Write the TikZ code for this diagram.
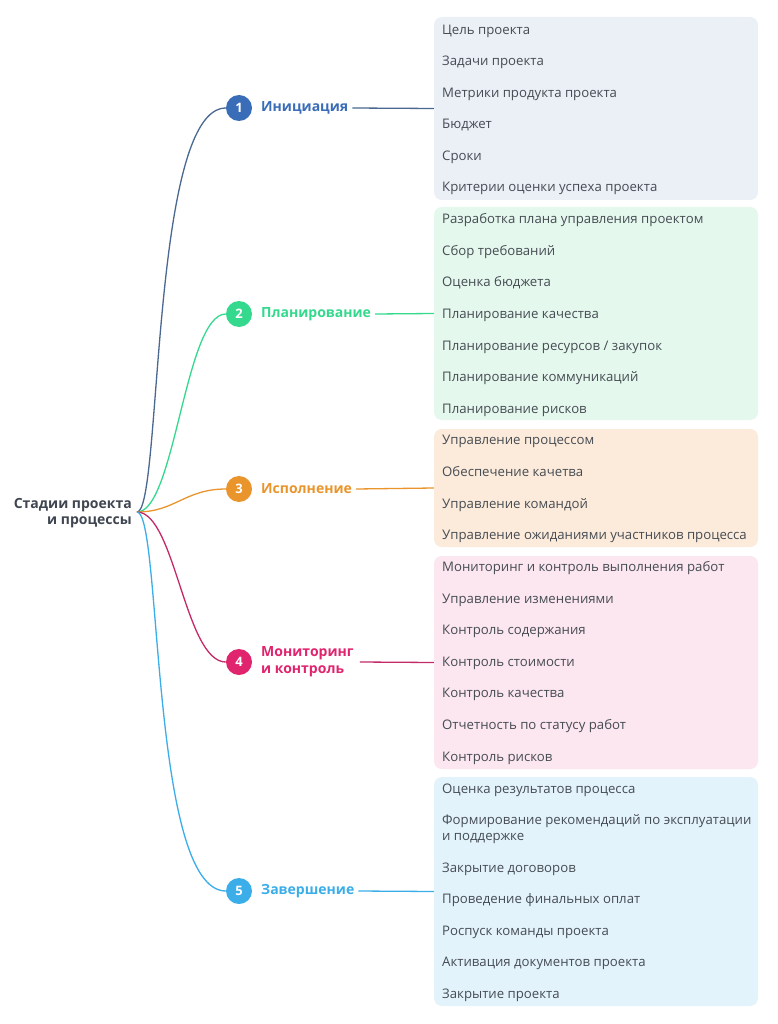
\documentclass[tikz,border=0pt]{standalone}
\usepackage{fontspec}
\setmainfont{Open Sans}
\begin{document}
\begin{tikzpicture}[x=1pt,y=-1pt,
  item/.style={anchor=base west,inner sep=0pt,text=itemgray,font=\fontsize{13.2}{16}\selectfont},
  box/.style={rectangle,rounded corners=8pt,inner sep=0pt,minimum width=324pt,draw=none},
  num/.style={circle,inner sep=0pt,minimum size=26pt,text=white,font=\fontsize{13}{13}\selectfont\bfseries},
  stagelbl/.style={anchor=west,inner sep=0pt,align=left,font=\fontsize{14}{17}\selectfont\bfseries},
  conn/.style={line width=1.3pt},
]
\definecolor{itemgray}{HTML}{464C53}
\definecolor{rootgray}{HTML}{3F4651}
\definecolor{cA}{HTML}{3A6DB8}
\definecolor{lA}{HTML}{4A6890}
\definecolor{fA}{HTML}{EBF0F7}
\definecolor{cB}{HTML}{35D98E}
\definecolor{fB}{HTML}{E5F8EE}
\definecolor{cC}{HTML}{E9952C}
\definecolor{fC}{HTML}{FCEBDB}
\definecolor{cD}{HTML}{E0246E}
\definecolor{lD}{HTML}{C42A68}
\definecolor{fD}{HTML}{FCE6EF}
\definecolor{cE}{HTML}{3BAEE9}
\definecolor{fE}{HTML}{E3F3FC}
\useasboundingbox[fill=white] (0,0) rectangle (777,1024);

% root
\node[anchor=east,inner sep=0pt,align=right,text=rootgray,font=\fontsize{14}{16.5}\selectfont\bfseries] (root) at (132,513) {Стадии проекта\\и процессы};
\coordinate (r) at (137,512);

% boxes
\node[box,fill=fA,minimum height=183pt] (b1) at (596,108.5) {};
\node[box,fill=fB,minimum height=213pt] (b2) at (596,313.5) {};
\node[box,fill=fC,minimum height=118pt] (b3) at (596,488) {};
\node[box,fill=fD,minimum height=213pt] (b4) at (596,662.5) {};
\node[box,fill=fE,minimum height=229pt] (b5) at (596,891.5) {};

% items box 1
\node[item] (i11) at (442,34.5) {Цель проекта};
\node[item] (i12) at (442,65.5) {Задачи проекта};
\node[item] (i13) at (442,97.5) {Метрики продукта проекта};
\node[item] (i14) at (442,128.5) {Бюджет};
\node[item] (i15) at (442,160.5) {Сроки};
\node[item] (i16) at (442,191.5) {Критерии оценки успеха проекта};
% items box 2
\node[item] (i21) at (442,223.5) {Разработка плана управления проектом};
\node[item] (i22) at (442,255.5) {Сбор требований};
\node[item] (i23) at (442,286.5) {Оценка бюджета};
\node[item] (i24) at (442,318.5) {Планирование качества};
\node[item] (i25) at (442,350.5) {Планирование ресурсов / закупок};
\node[item] (i26) at (442,381.5) {Планирование коммуникаций};
\node[item] (i27) at (442,413.5) {Планирование рисков};
% items box 3
\node[item] (i31) at (442,444.5) {Управление процессом};
\node[item] (i32) at (442,476.5) {Обеспечение качетва};
\node[item] (i33) at (442,508.5) {Управление командой};
\node[item] (i34) at (442,539.5) {Управление ожиданиями участников процесса};
% items box 4
\node[item] (i41) at (442,571.5) {Мониторинг и контроль выполнения работ};
\node[item] (i42) at (442,603.5) {Управление изменениями};
\node[item] (i43) at (442,634.5) {Контроль содержания};
\node[item] (i44) at (442,666.5) {Контроль стоимости};
\node[item] (i45) at (442,697.5) {Контроль качества};
\node[item] (i46) at (442,729.5) {Отчетность по статусу работ};
\node[item] (i47) at (442,761.5) {Контроль рисков};
% items box 5
\node[item] (i51) at (442,793.5) {Оценка результатов процесса};
\node[item,align=left] (i52) at (442,840.5) {Формирование рекомендаций по эксплуатации\\и поддержке};
\node[item] (i53) at (442,872.5) {Закрытие договоров};
\node[item] (i54) at (442,903.5) {Проведение финальных оплат};
\node[item] (i55) at (442,935.5) {Роспуск команды проекта};
\node[item] (i56) at (442,966.5) {Активация документов проекта};
\node[item] (i57) at (442,998.5) {Закрытие проекта};

% stage circles and labels
\node[num,fill=cA] (c1) at (239,108) {1};
\node[stagelbl,text=cA] (l1) at (261,108) {Инициация};
\node[num,fill=cB] (c2) at (239,314) {2};
\node[stagelbl,text=cB] (l2) at (261,314) {Планирование};
\node[num,fill=cC] (c3) at (239,489) {3};
\node[stagelbl,text=cC] (l3) at (261,489) {Исполнение};
\node[num,fill=cD] (c4) at (239,662) {4};
\node[stagelbl,text=cD] (l4) at (261,662) {Мониторинг\\и контроль};
\node[num,fill=cE] (c5) at (239,891) {5};
\node[stagelbl,text=cE] (l5) at (261,891) {Завершение};

% connectors root -> circles
\draw[conn,draw=lA] (r) .. controls (162,512) and (150,108) .. (c1.west);
\draw[conn,draw=cB] (r) .. controls (175,512) and (185,314) .. (c2.west);
\draw[conn,draw=cC] (r) .. controls (175,512) and (185,489) .. (c3.west);
\draw[conn,draw=lD] (r) .. controls (175,512) and (185,662) .. (c4.west);
\draw[conn,draw=cE] (r) .. controls (162,512) and (150,891) .. (c5.west);

% connectors labels -> boxes
\draw[conn,draw=lA] ([xshift=4pt]l1.east) -- (b1.west);
\draw[conn,draw=cB] ([xshift=4pt]l2.east) -- (b2.west);
\draw[conn,draw=cC] ([xshift=4pt]l3.east) -- (b3.west);
\draw[conn,draw=lD] ([xshift=6pt]l4.east) -- (b4.west);
\draw[conn,draw=cE] ([xshift=4pt]l5.east) -- (b5.west);
\end{tikzpicture}
\end{document}
